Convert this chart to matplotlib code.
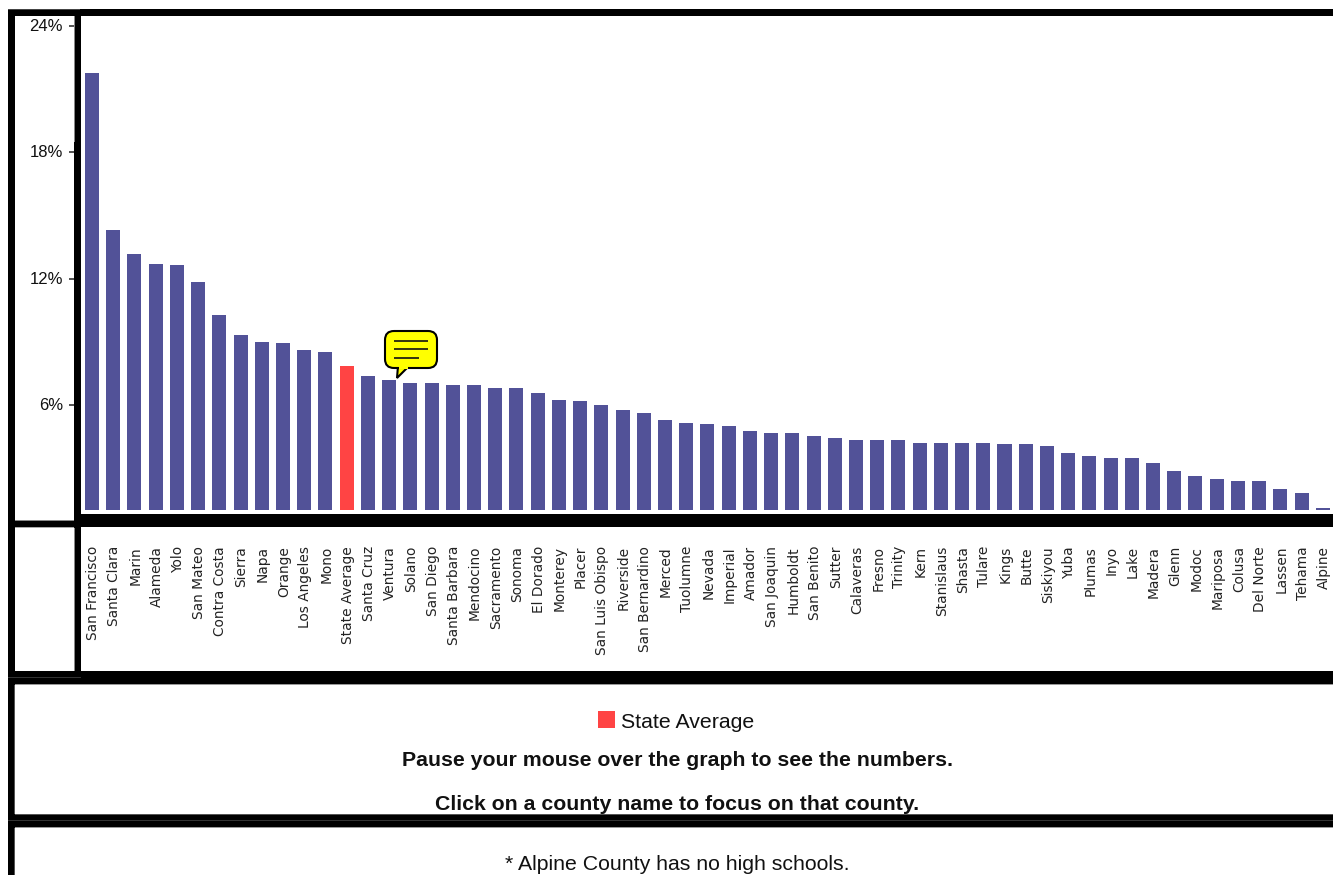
import matplotlib
matplotlib.use('Agg')
import matplotlib.pyplot as plt
from matplotlib.patches import Rectangle, FancyBboxPatch, Polygon
from matplotlib.transforms import ScaledTranslation

counties = ['San Francisco', 'Santa Clara', 'Marin', 'Alameda', 'Yolo', 'San Mateo', 'Contra Costa',
            'Sierra', 'Napa', 'Orange', 'Los Angeles', 'Mono', 'State Average', 'Santa Cruz', 'Ventura',
            'Solano', 'San Diego', 'Santa Barbara', 'Mendocino', 'Sacramento', 'Sonoma', 'El Dorado',
            'Monterey', 'Placer', 'San Luis Obispo', 'Riverside', 'San Bernardino', 'Merced', 'Tuolumne',
            'Nevada', 'Imperial', 'Amador', 'San Joaquin', 'Humboldt', 'San Benito', 'Sutter', 'Calaveras',
            'Fresno', 'Trinity', 'Kern', 'Stanislaus', 'Shasta', 'Tulare', 'Kings', 'Butte', 'Siskiyou',
            'Yuba', 'Plumas', 'Inyo', 'Lake', 'Madera', 'Glenn', 'Modoc', 'Mariposa', 'Colusa', 'Del Norte',
            'Lassen', 'Tehama', 'Alpine']
values = [21.77, 14.31, 13.17, 12.69, 12.65, 11.84, 10.27,
          9.32, 8.99, 8.94, 8.61, 8.51, 7.85, 7.37, 7.18,
          7.04, 7.04, 6.95, 6.95, 6.80, 6.80, 6.57,
          6.23, 6.19, 6.00, 5.76, 5.62, 5.28, 5.14,
          5.09, 5.00, 4.76, 4.67, 4.67, 4.52, 4.43, 4.33,
          4.33, 4.33, 4.19, 4.19, 4.19, 4.19, 4.14, 4.14, 4.05,
          3.72, 3.57, 3.48, 3.48, 3.24, 2.86, 2.62, 2.48, 2.38, 2.38,
          2.00, 1.81, 1.10]
y_ticks = [6, 12, 18, 24]
y_tick_labels = ['6%', '12%', '18%', '24%']
base = 1.0

BLUE = '#525298'
RED = '#ff4444'
W, H = 1333, 875
SANS = 'Liberation Sans'

fig = plt.figure(figsize=(W / 100, H / 100), dpi=100, facecolor='white')

# chart area, pixel box x 81..1333, y 16..514
ax = fig.add_axes([81 / W, 1 - 514 / H, (W - 81) / W, 498 / H])
colors = [RED if c == 'State Average' else BLUE for c in counties]
xs = range(len(counties))
ax.bar(xs, [v - base for v in values], bottom=base, width=0.66, color=colors)
ax.set_xlim(-0.518, 58.48)
ax.set_ylim(0.817, 24.475)
ax.set_yticks(y_ticks)
ax.set_yticklabels(y_tick_labels, fontfamily=SANS, fontsize=12, color='#111111')
ax.tick_params(axis='y', length=8.6, width=1.1, pad=4.3, color='#222222')
ax.set_xticks(list(xs))
ax.set_xticklabels(counties, rotation=90, fontfamily='DejaVu Sans', fontsize=9.9, color='#222222')
ax.tick_params(axis='x', length=0, pad=23)
for lab in ax.get_yticklabels():
    lab.set_transform(lab.get_transform() + ScaledTranslation(0, 1 / 100, fig.dpi_scale_trans))
for lab in ax.get_xticklabels():
    lab.set_transform(lab.get_transform() + ScaledTranslation(1 / 100, 0, fig.dpi_scale_trans))
for s in ax.spines.values():
    s.set_visible(False)

# overlay in pixel coords for the table frame, callout and notes
ov = fig.add_axes([0, 0, 1, 1], zorder=5)
ov.set_xlim(0, W)
ov.set_ylim(H, 0)
ov.axis('off')


def band(x0, y0, x1, y1, color='black'):
    ov.add_patch(Rectangle((x0, y0), x1 - x0, y1 - y0, fc=color, ec='none'))


band(8, 9, W, 16)
band(8, 9, 15, H)
band(74, 9, 81, 684)
band(81, 514, W, 527)
band(8, 520, 81, 527)
band(8, 671, W, 684)
band(8, 814, W, 827)

# bevel lines, 1px strips
for x0, y0, x1, y1, c in [(8, 9, 80, 10, '#444444'), (74, 16, 75, 142, '#888888'),
                          (15, 520, 74, 521, '#888888'), (15, 527, 74, 528, '#aaaaaa'),
                          (74, 528, 75, 671, '#888888'), (8, 677, 81, 678, '#333333'),
                          (15, 684, W, 685, '#999999'), (15, 814, W, 815, '#555555'),
                          (8, 820, W, 821, '#333333'), (15, 827, W, 828, '#999999'),
                          (14, 685, 15, 814, '#555555'), (14, 828, 15, H, '#555555')]:
    band(x0, y0, x1, y1, c)

# callout over Ventura
ov.add_patch(Polygon([(398, 366), (397, 378), (409, 366)], closed=True, fc='#ffff00', ec='black', lw=1.5, zorder=3))
ov.add_patch(FancyBboxPatch((393, 339), 36, 21, boxstyle='round,pad=8,rounding_size=9',
                            fc='#ffff00', ec='black', lw=1.5, zorder=3))
ov.add_patch(Rectangle((399, 364), 9, 5, fc='#ffff00', ec='none', zorder=4))
for y, x1 in [(340.7, 428), (349.3, 428), (357.7, 419)]:
    ov.plot([394, x1], [y, y], color='#111111', lw=1.2, solid_capstyle='butt', zorder=5)

# legend and notes
band(598, 711, 615, 728, RED)
ov.text(621, 722, 'State Average', fontfamily=SANS, fontsize=15.3, va='center', ha='left', color='#111111')
ov.text(677, 760, 'Pause your mouse over the graph to see the numbers.', fontfamily=SANS, fontsize=15.3,
        fontweight='bold', va='center', ha='center', color='#111111')
ov.text(677, 804, 'Click on a county name to focus on that county.', fontfamily=SANS, fontsize=15.3,
        fontweight='bold', va='center', ha='center', color='#111111')
ov.text(677, 864, '* Alpine County has no high schools.', fontfamily=SANS, fontsize=15.3,
        va='center', ha='center', color='#111111')

fig.savefig('out.png', dpi=100)
